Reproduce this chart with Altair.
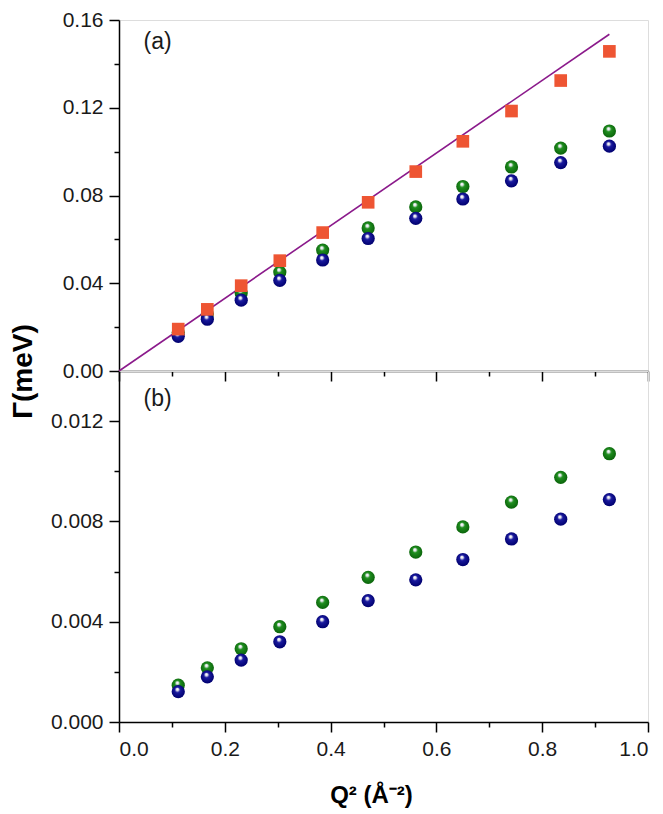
import altair as alt
import pandas as pd

# ---- data ----
q2 = [0.112, 0.167, 0.231, 0.304, 0.385, 0.471, 0.561, 0.650, 0.742, 0.835, 0.927]

a_red = [0.0191, 0.0281, 0.0389, 0.0503, 0.0631, 0.0769, 0.0909, 0.1047, 0.1185, 0.1324, 0.1457]
a_green = [0.0175, 0.0260, 0.0355, 0.0451, 0.0551, 0.0652, 0.0748, 0.0841, 0.0930, 0.1016, 0.1094]
a_blue = [0.0158, 0.0236, 0.0323, 0.0413, 0.0506, 0.0604, 0.0696, 0.0784, 0.0867, 0.0950, 0.1025]

b_green = [0.00147, 0.00216, 0.00292, 0.00380, 0.00477, 0.00577, 0.00678, 0.00778, 0.00877, 0.00976, 0.01070]
b_blue = [0.00121, 0.00180, 0.00247, 0.00320, 0.00400, 0.00484, 0.00567, 0.00648, 0.00730, 0.00809, 0.00887]

fit_x = [0.0, 0.927]
fit_y = [0.0, 0.1535]

x_major = [0.0, 0.2, 0.4, 0.6, 0.8, 1.0]
x_minor = [0.1, 0.3, 0.5, 0.7, 0.9]
ya_major = [0.0, 0.04, 0.08, 0.12, 0.16]
ya_minor = [0.02, 0.06, 0.10, 0.14]
yb_major = [0.0, 0.004, 0.008, 0.012]
yb_minor = [0.002, 0.006, 0.010]

W, H = 529, 351
FONT = "Liberation Sans"
LBL = 21


def df(xs, ys):
    return pd.DataFrame({"q2": xs, "g": ys})


def sphere(light, dark):
    return alt.RadialGradient(
        gradient="radial",
        x1=0.42, y1=0.30, r1=0.0,
        x2=0.5, y2=0.5, r2=0.62,
        stops=[
            alt.GradientStop(offset=0.0, color="#ffffff"),
            alt.GradientStop(offset=0.15, color="#e8e8f0"),
            alt.GradientStop(offset=0.32, color=light),
            alt.GradientStop(offset=0.85, color=dark),
            alt.GradientStop(offset=1.0, color=light),
        ],
    )


BLUE = sphere("#1a1aa0", "#00006e")
GREEN = sphere("#1f8f1f", "#0b640b")


def axis_major(values, fmt, labels=True, **kw):
    return alt.Axis(values=values, format=fmt, labels=labels, tickSize=10, tickWidth=1.5,
                    tickColor="black", domainColor="black", domainWidth=1.5, grid=False,
                    labelFont=FONT, labelFontSize=LBL, labelColor="#1a1a1a", labelPadding=6,
                    **kw)


def axis_minor(values, orient):
    return alt.Axis(values=values, labels=False, tickSize=5, tickWidth=1.5, tickColor="black",
                    domain=False, grid=False, title=None, orient=orient)


def panel(ydom, ymaj, ymin, yfmt, series, label, label_y, top):
    xs = alt.Scale(domain=[0, 1], nice=False, zero=False)
    ys = alt.Scale(domain=ydom, nice=False, zero=False)

    if top:
        x_main = axis_major(x_major, ".1f", labels=False, title=None, orient="bottom")
        y_main = axis_major(ymaj, yfmt, title="Γ(meV)", orient="left",
                            titleFont=FONT, titleFontSize=28, titleFontWeight="bold",
                            titleColor="black", titleAngle=270, titleAlign="center",
                            titleBaseline="top", titleX=-110, titleY=H)
    else:
        x_main = axis_major(x_major, ".1f", title="Q² (Å⁻²)", orient="bottom",
                            titleFont=FONT, titleFontSize=24, titleFontWeight="bold",
                            titleColor="black", titlePadding=24, titleX=252, titleAlign="center")
        y_main = axis_major(ymaj, yfmt, title=None, orient="left")

    layers = []
    # axis carrier layers (invisible)
    layers.append(
        alt.Chart(df([0], [0])).mark_point(opacity=0).encode(
            x=alt.X("q2:Q", scale=xs, axis=x_main),
            y=alt.Y("g:Q", scale=ys, axis=y_main),
        )
    )
    layers.append(
        alt.Chart(df([0], [0])).mark_point(opacity=0).encode(
            x=alt.X("q2:Q", scale=xs, axis=axis_minor(x_minor, "bottom")),
            y=alt.Y("g:Q", scale=ys, axis=axis_minor(ymin, "left")),
        )
    )
    for kind, data, style in series:
        base = alt.Chart(data)
        enc = dict(x=alt.X("q2:Q", scale=xs, axis=None), y=alt.Y("g:Q", scale=ys, axis=None))
        if kind == "line":
            layers.append(base.mark_line(color="#8b1a8b", strokeWidth=1.6).encode(**enc))
        elif kind == "sphere":
            layers.append(base.mark_point(shape="circle", filled=True, fill=style, stroke=None,
                                          opacity=1, size=175).encode(**enc))
        else:
            layers.append(base.mark_square(color=style, opacity=1, size=160).encode(**enc))
    layers.append(
        alt.Chart(pd.DataFrame({"t": [label]})).mark_text(
            font=FONT, fontSize=23, color="#1a1a1a", align="center", baseline="middle"
        ).encode(
            x=alt.X(datum=0.073, scale=xs, axis=None),
            y=alt.Y(datum=label_y, scale=ys, axis=None),
            text="t:N",
        )
    )
    return alt.layer(*layers).resolve_axis(x="independent", y="independent").properties(
        width=W, height=H
    )


top = panel(
    [0, 0.16], ya_major, ya_minor, ".2f",
    [
        ("line", df(fit_x, fit_y), None),
        ("sphere", df(q2, a_green), GREEN),
        ("sphere", df(q2, a_blue), BLUE),
        ("square", df(q2, a_red), "#ee5533"),
    ],
    "(a)", 0.150, True,
)

bottom = panel(
    [0, 0.014], yb_major, yb_minor, ".3f",
    [
        ("sphere", df(q2, b_green), GREEN),
        ("sphere", df(q2, b_blue), BLUE),
    ],
    "(b)", 0.0129, False,
)

chart = alt.vconcat(top, bottom, spacing=0).properties(
    bounds="flush",
    padding={"left": 0, "top": 0, "right": 5, "bottom": 0},
).configure_view(stroke="black", strokeWidth=1.5).configure(background="white")

chart.save("out.html", embed_options={"renderer": "svg", "actions": False})
